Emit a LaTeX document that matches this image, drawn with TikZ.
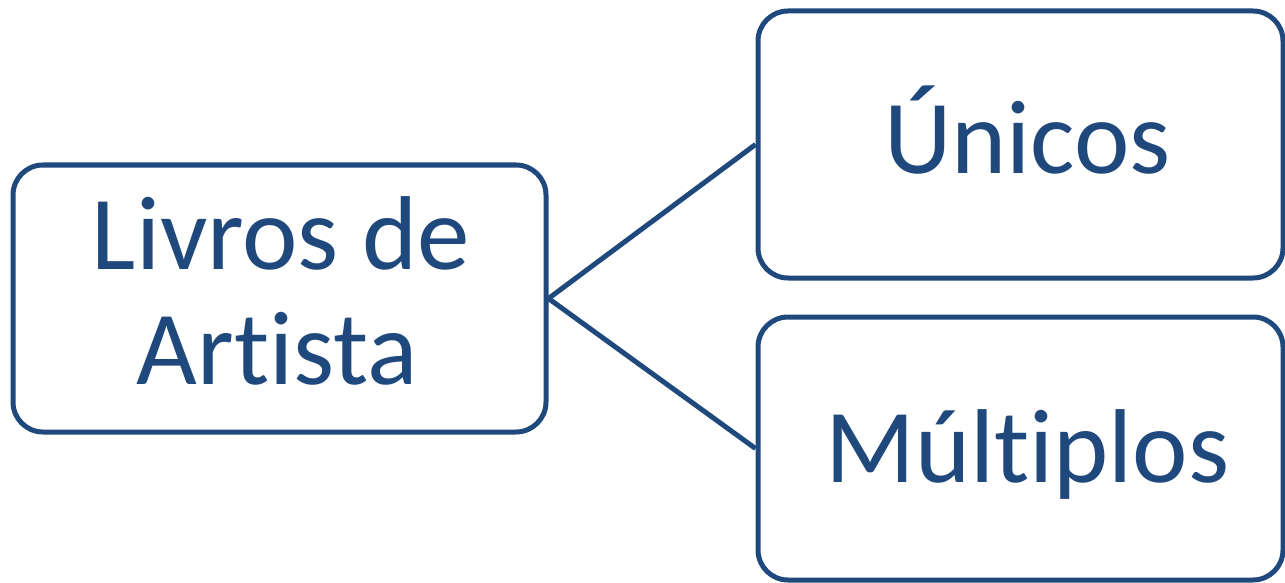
\documentclass[tikz,border=0pt]{standalone}
\usepackage{fontspec}
\setmainfont[Ligatures=NoCommon]{Carlito}
\definecolor{boxblue}{RGB}{31,73,125}
\begin{document}
\begin{tikzpicture}[x=1pt,y=-1pt,
  itembox/.style={draw=boxblue, line width=5pt, rounded corners=30pt, fill=white,
    inner sep=0pt},
  itemtext/.style={text=boxblue, inner sep=0pt, anchor=base,
    font=\fontsize{105}{115}\selectfont},
  link/.style={draw=boxblue, line width=5pt}]
\useasboundingbox (0,0) rectangle (1285,583);
\node[itembox, minimum width=533pt, minimum height=267pt] (livros) at (279.5,298.5) {};
\node[itembox, minimum width=525pt, minimum height=267pt] (unicos) at (1020.5,144.5) {};
\node[itembox, minimum width=525pt, minimum height=263pt] (multiplos) at (1020.5,448.5) {};
\node[itemtext] (livrosA) at (281,269) {Livros de};
\node[itemtext] (livrosB) at (277,384) {Artista};
\node[itemtext] (unicosT) at (1027.5,173) {Únicos};
\node[itemtext] (multiplosT) at (1027.5,482) {Múltiplos};
\draw[link] (livros.east) -- (unicos.west);
\draw[link] (livros.east) -- (multiplos.west);
\end{tikzpicture}
\end{document}
